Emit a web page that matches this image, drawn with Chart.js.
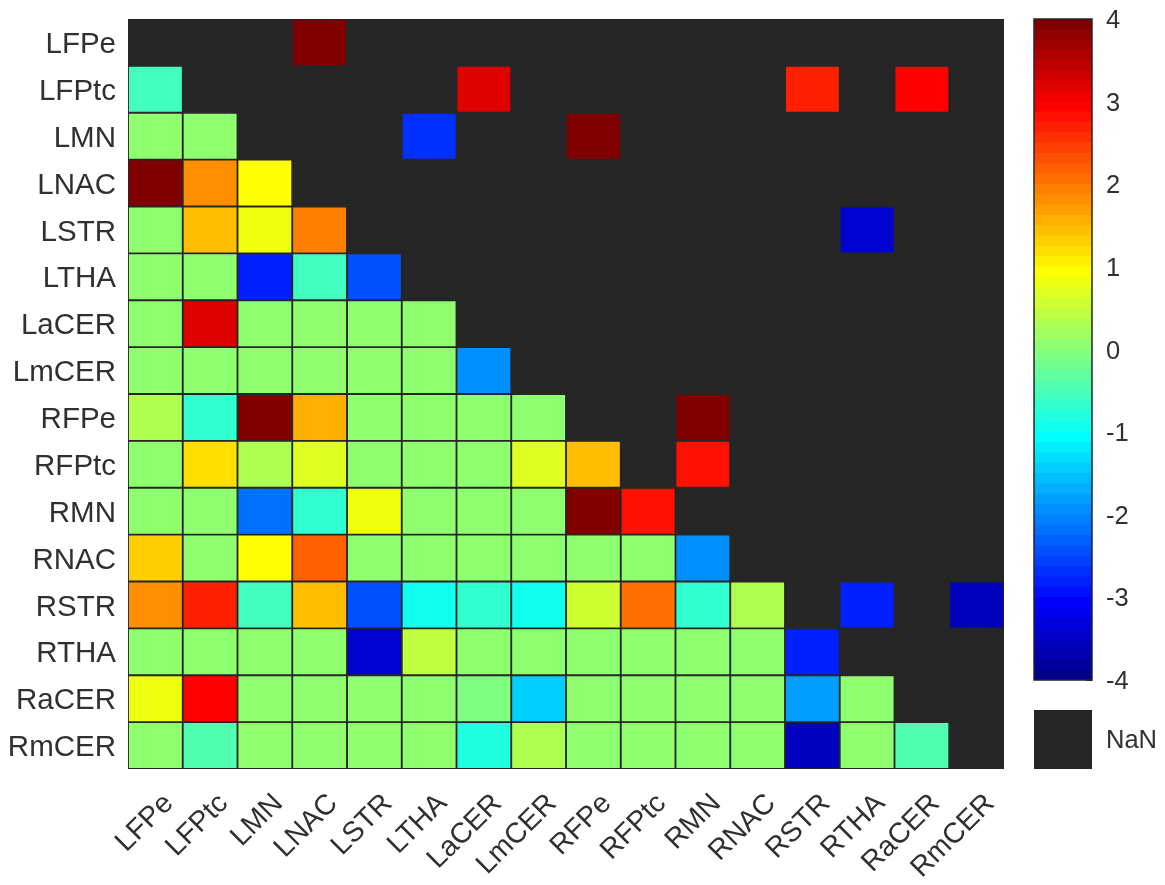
<!DOCTYPE html>
<html>
<head>
  <meta charset="UTF-8" />
  <title>Connectivity matrix</title>
  <script src="https://cdn.jsdelivr.net/npm/chart.js"></script>
  <style>
    body { margin: 0; background: #fff; width: 1165px; height: 885px; overflow: hidden; }
    .box { position: absolute; }
  </style>
</head>
<body>
<div class="box" style="left:0;top:0;width:1020px;height:885px"><canvas id="matrixChart"></canvas></div>
<div class="box" style="left:1020px;top:0;width:145px;height:700px"><canvas id="colorbarChart"></canvas></div>
<div class="box" style="left:1020px;top:700px;width:145px;height:85px"><canvas id="nanChart"></canvas></div>

<script>
  const regions = ['LFPe', 'LFPtc', 'LMN', 'LNAC', 'LSTR', 'LTHA', 'LaCER', 'LmCER',
    'RFPe', 'RFPtc', 'RMN', 'RNAC', 'RSTR', 'RTHA', 'RaCER', 'RmCER'];

  const _ = null; // NaN cell
  const rowLFPe  = [_, _, _, 3.9, _, _, _, _, _, _, _, _, _, _, _, _];
  const rowLFPtc = [-0.55, _, _, _, _, _, 3.15, _, _, _, _, _, 2.65, _, 2.9, _];
  const rowLMN   = [0, 0, _, _, _, -2.75, _, _, 3.9, _, _, _, _, _, _, _];
  const rowLNAC  = [3.9, 1.85, 0.9, _, _, _, _, _, _, _, _, _, _, _, _, _];
  const rowLSTR  = [0, 1.4, 0.8, 1.9, _, _, _, _, _, _, _, _, _, -3.5, _, _];
  const rowLTHA  = [0, 0, -2.8, -0.6, -2.5, _, _, _, _, _, _, _, _, _, _, _];
  const rowLaCER = [0, 3.2, 0, 0, 0, 0, _, _, _, _, _, _, _, _, _, _];
  const rowLmCER = [0, 0, 0, 0, 0, 0, -1.95, _, _, _, _, _, _, _, _, _];
  const rowRFPe  = [0.3, -0.7, 3.9, 1.55, 0, 0, 0, 0, _, _, 3.9, _, _, _, _, _];
  const rowRFPtc = [0, 1.15, 0.3, 0.65, 0, 0, 0, 0.65, 1.4, _, 2.75, _, _, _, _, _];
  const rowRMN   = [0, 0, -2.2, -0.7, 0.8, 0, 0, 0, 3.9, 2.75, _, _, _, _, _, _];
  const rowRNAC  = [1.3, 0, 0.9, 2.15, 0, 0, 0, 0, 0, 0, -1.95, _, _, _, _, _];
  const rowRSTR  = [1.8, 2.65, -0.6, 1.45, -2.5, -0.95, -0.7, -0.95, 0.55, 2.0, -0.7, 0.3, _, -2.85, _, -3.6];
  const rowRTHA  = [0, 0, 0, 0, -3.5, 0.4, 0, 0, 0, 0, 0, 0, -2.85, _, _, _];
  const rowRaCER = [0.8, 2.9, 0, 0, 0, 0, -0.1, -1.45, 0, 0, 0, 0, -1.85, 0, _, _];
  const rowRmCER = [0, -0.45, 0, 0, 0, 0, -0.85, 0.35, 0, 0, 0, 0, -3.6, 0, -0.45, _];

  const matrixRows = [rowLFPe, rowLFPtc, rowLMN, rowLNAC, rowLSTR, rowLTHA, rowLaCER, rowLmCER,
    rowRFPe, rowRFPtc, rowRMN, rowRNAC, rowRSTR, rowRTHA, rowRaCER, rowRmCER];

  const colorbarTicks = [-4, -3, -2, -1, 0, 1, 2, 3, 4];
  const nanLabel = 'NaN';

  const nanColor = '#262626';
  const inkColor = '#303030';
  const fontFamily = '"Liberation Sans", Arial, sans-serif';

  // matlab jet(64), i goes 1..64
  function jet(i) {
    let r = 0, g = 0, b = 0;
    if (i > 56) r = 1 - (i - 56) / 16; else if (i > 40) r = 1; else if (i > 24) r = (i - 24) / 16;
    if (i > 56) g = 0; else if (i > 40) g = 1 - (i - 40) / 16; else if (i > 24) g = 1; else if (i > 8) g = (i - 8) / 16;
    if (i > 40) b = 0; else if (i > 24) b = 1 - (i - 24) / 16; else if (i > 8) b = 1; else b = 0.5 + i / 16;
    return `rgb(${Math.round(r * 255)},${Math.round(g * 255)},${Math.round(b * 255)})`;
  }

  function valueColor(v) {
    if (v === null) return nanColor;
    const i = Math.min(64, Math.floor((v + 4) / 8 * 64) + 1);
    return jet(i);
  }

  // no overhang room for the labels, the plot boxes have to sit exactly
  function noOverhang(scale) {
    scale.paddingTop = 0;
    scale.paddingBottom = 0;
    scale.paddingLeft = 0;
    scale.paddingRight = 0;
  }

  // fills the plot so seams between NaN cells stay dark
  const nanBackground = {
    id: 'nanBackground',
    beforeDatasetsDraw(chart) {
      const a = chart.chartArea, c = chart.ctx;
      c.save();
      c.fillStyle = nanColor;
      c.fillRect(a.left, a.top, a.right - a.left, a.bottom - a.top);
      c.restore();
    }
  };

  const frameBars = {
    id: 'frameBars',
    afterDatasetsDraw(chart) {
      const a = chart.chartArea, c = chart.ctx;
      c.save();
      c.strokeStyle = nanColor;
      c.lineWidth = 1.5;
      c.strokeRect(a.left, a.top, a.right - a.left, a.bottom - a.top);
      c.restore();
    }
  };

  // one stacked dataset per row, every cell is one unit tall
  const matrixDatasets = matrixRows.map((row, r) => ({
    label: regions[r],
    data: row.map(() => 1),
    backgroundColor: row.map(valueColor),
    borderColor: nanColor,
    borderWidth: 1.25,
    borderSkipped: false,
    barPercentage: 1,
    categoryPercentage: 1
  }));

  new Chart(document.getElementById('matrixChart'), {
    type: 'bar',
    data: { labels: regions, datasets: matrixDatasets },
    plugins: [nanBackground],
    options: {
      responsive: true,
      maintainAspectRatio: false,
      animation: false,
      layout: { padding: { left: 0, top: 19, right: 16, bottom: 0 } },
      plugins: { legend: { display: false }, tooltip: { enabled: false } },
      scales: {
        x: {
          stacked: true,
          grid: { display: false },
          border: { display: false },
          afterFit: scale => { scale.height = 116; noOverhang(scale); },
          ticks: {
            autoSkip: false,
            minRotation: 45,
            maxRotation: 45,
            padding: 10,
            labelOffset: 13.5,
            color: inkColor,
            font: { family: fontFamily, size: 28.5 }
          }
        },
        y: {
          stacked: true,
          reverse: true,
          min: 0,
          max: regions.length,
          grid: { display: false },
          border: { display: false },
          afterFit: scale => { scale.width = 128; noOverhang(scale); },
          afterBuildTicks: scale => {
            scale.ticks = regions.map((name, i) => ({ value: i + 0.5, label: name }));
          },
          ticks: {
            autoSkip: false,
            padding: 4,
            labelOffset: 2.5,
            color: inkColor,
            font: { family: fontFamily, size: 29.5 },
            callback: (value) => regions[Math.floor(value)]
          }
        }
      }
    }
  });

  // colour bar: 64 overlapping floating bars on a value axis, first dataset paints last
  const levelTops = Array.from({ length: 64 }, (unused, i) => -4 + (i + 1) / 8);
  const colorbarDatasets = levelTops.map((top, i) => ({
    data: [[-4, top]],
    backgroundColor: jet(i + 1),
    borderWidth: 0,
    grouped: false,
    barPercentage: 1,
    categoryPercentage: 1
  }));

  new Chart(document.getElementById('colorbarChart'), {
    type: 'bar',
    data: { labels: [''], datasets: colorbarDatasets },
    plugins: [frameBars],
    options: {
      responsive: true,
      maintainAspectRatio: false,
      animation: false,
      layout: { padding: { left: 14, top: 19, right: 0, bottom: 20 } },
      plugins: { legend: { display: false }, tooltip: { enabled: false } },
      scales: {
        x: { display: false },
        y: {
          position: 'right',
          min: -4,
          max: 4,
          afterFit: scale => { scale.width = 73; noOverhang(scale); },
          afterBuildTicks: scale => { scale.ticks = colorbarTicks.map(v => ({ value: v })); },
          grid: { drawOnChartArea: false, tickLength: -6, color: nanColor, lineWidth: 1 },
          border: { display: false },
          ticks: {
            crossAlign: 'near',
            padding: 20,
            labelOffset: 2,
            color: inkColor,
            font: { family: fontFamily, size: 25.5 },
            callback: v => String(v)
          }
        }
      }
    }
  });

  // NaN swatch under the colour bar
  new Chart(document.getElementById('nanChart'), {
    type: 'bar',
    data: {
      labels: [''],
      datasets: [{
        data: [1],
        backgroundColor: nanColor,
        borderColor: nanColor,
        borderWidth: 1,
        borderSkipped: false,
        barPercentage: 1,
        categoryPercentage: 1
      }]
    },
    options: {
      responsive: true,
      maintainAspectRatio: false,
      animation: false,
      layout: { padding: { left: 14, top: 10, right: 0, bottom: 16 } },
      plugins: { legend: { display: false }, tooltip: { enabled: false } },
      scales: {
        x: { display: false },
        y: {
          position: 'right',
          min: 0,
          max: 1,
          afterFit: scale => { scale.width = 73; noOverhang(scale); },
          afterBuildTicks: scale => { scale.ticks = [{ value: 0.5 }]; },
          grid: { display: false },
          border: { display: false },
          ticks: {
            crossAlign: 'near',
            padding: 6,
            labelOffset: 1,
            color: inkColor,
            font: { family: fontFamily, size: 25.5 },
            callback: () => nanLabel
          }
        }
      }
    }
  });
</script>
</body>
</html>
